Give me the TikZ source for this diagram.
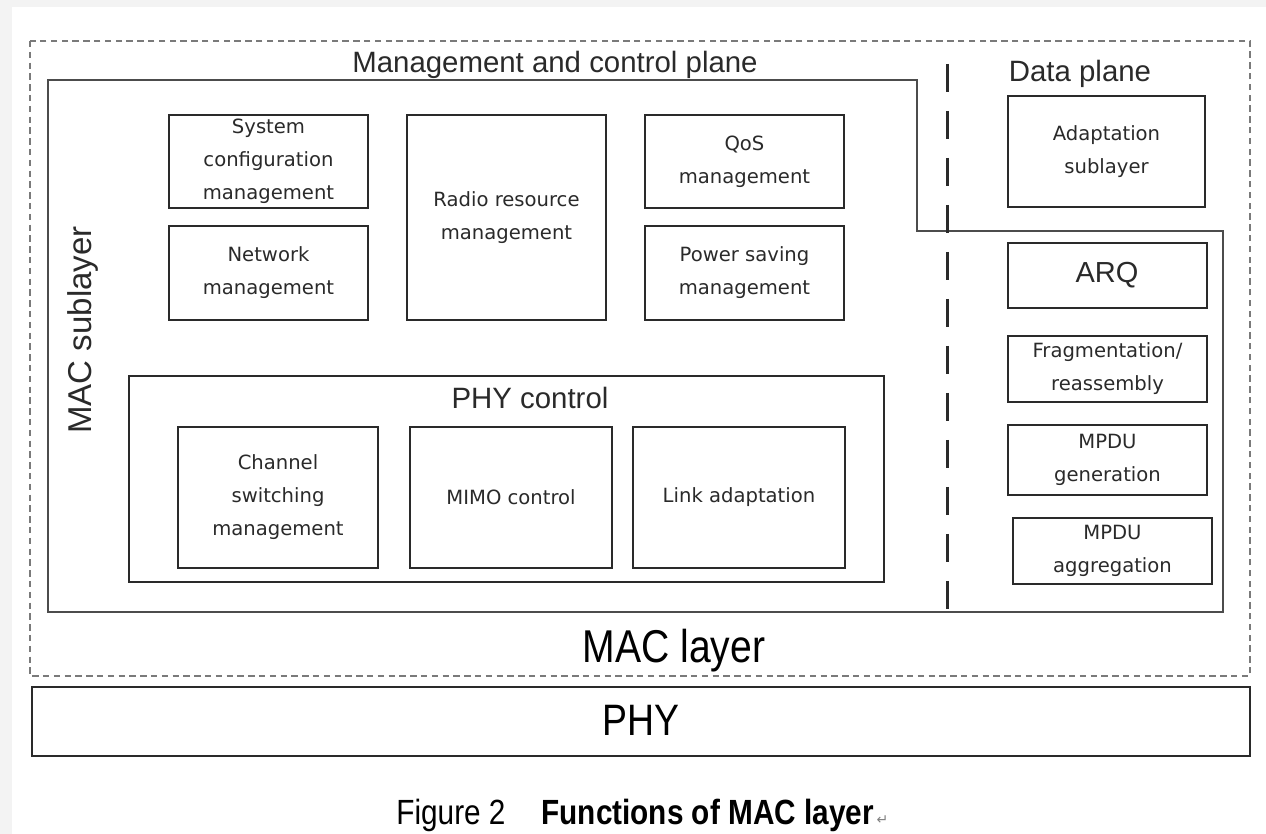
\documentclass[tikz,border=0pt]{standalone}
\usepackage{fontspec}
\setmainfont{Liberation Sans}
\newfontfamily\boxfont{DejaVu Sans}
\newfontfamily\narrowfont[FakeStretch=0.85]{Liberation Sans}
\usetikzlibrary{fit}
\definecolor{bg}{HTML}{F3F3F3}
\definecolor{ink}{HTML}{2A2A2A}
\definecolor{dashgray}{HTML}{7A7A7A}
\tikzset{
  fbox/.style={draw=ink, line width=1pt, inner sep=0pt, rectangle},
  btxt/.style={font=\boxfont\fontsize{9.8}{16.5}\selectfont, align=center, text=ink, inner sep=0pt},
  head/.style={font=\fontsize{14.7}{17}\selectfont, text=ink, inner sep=0pt, anchor=base},
  outerdash/.style={draw=dashgray, line width=1.3pt, dash pattern=on 3.2pt off 2.2pt},
  planedash/.style={draw=ink, line width=1.5pt, dash pattern=on 14pt off 9.5pt},
  sublayer/.style={draw=black!70, line width=1.2pt},
}
\begin{document}
\begin{tikzpicture}[x=0.5pt,y=-0.5pt]
\useasboundingbox (0,0) rectangle (1266,834);
\fill[bg] (0,0) rectangle (1266,834);
\fill[white] (12,7) rectangle (1266,834);

% MAC layer (dashed outer)
\draw[outerdash] (30,41) rectangle (1250,676);

% MAC sublayer outline
\draw[sublayer] (48,80) -- (917,80) -- (917,231) -- (1223,231) -- (1223,612) -- (48,612) -- cycle;

% plane separator
\coordinate (dtop) at (947,64);
\coordinate (dbot) at (947,612);
\draw[planedash] (dtop) -- (dbot);

% headings
\node[head] (mcp) at (555,73) {Management and control plane};
\node[head] (dp) at (1080,82) {Data plane};
\node[font=\fontsize{16.5}{19}\selectfont, text=ink, inner sep=0pt, rotate=90] (macsub) at (83,330) {MAC sublayer};

% management & control functions
\node[fbox, fit={(169,115) (368,208)}, label={[btxt]center:System\\configuration\\management}] (sys) {};
\node[fbox, fit={(169,226) (368,320)}, label={[btxt]center:Network\\management}] (net) {};
\node[fbox, fit={(407,115) (606,320)}, label={[btxt]center:Radio resource\\management}] (rrm) {};
\node[fbox, fit={(645,115) (844,208)}, label={[btxt]center:QoS\\management}] (qos) {};
\node[fbox, fit={(645,226) (844,320)}, label={[btxt]center:Power saving\\management}] (psm) {};

% PHY control
\node[fbox, fit={(129,376) (884,582)}] (phyc) {};
\node[head] (phyct) at (530,409) {PHY control};
\node[fbox, fit={(178,427) (378,568)}, label={[btxt]center:Channel\\switching\\management}] (chs) {};
\node[fbox, fit={(410,427) (612,568)}, label={[btxt]center:MIMO control}] (mimo) {};
\node[fbox, fit={(633,427) (845,568)}, label={[btxt]center:Link adaptation}] (link) {};

% data plane
\node[fbox, fit={(1008,96) (1205,207)}, label={[btxt]center:Adaptation\\sublayer}] (adapt) {};
\node[fbox, fit={(1008,243) (1207,308)}] (arq) {};
\node[head, font=\fontsize{14.5}{17}\selectfont] (arqt) at (1107,283) {ARQ};
\node[fbox, fit={(1008,336) (1207,402)}, label={[btxt]center:Fragmentation/\\reassembly}] (frag) {};
\node[fbox, fit={(1008,425) (1207,495)}, label={[btxt]center:MPDU\\generation}] (gen) {};
\node[fbox, fit={(1013,518) (1212,584)}, label={[btxt]center:MPDU\\aggregation}] (agg) {};

% MAC layer label
\node[anchor=base, inner sep=0pt, text=black, font=\narrowfont\fontsize{23}{26}\selectfont] (macl) at (674,663) {MAC layer};

% PHY
\node[fbox, line width=1.2pt, fit={(32,687) (1250,756)}] (phy) {};
\node[anchor=base, inner sep=0pt, text=black, font=\narrowfont\fontsize{22}{25}\selectfont] (phyt) at (641,735) {PHY};

% caption
\node[anchor=base west, inner sep=0pt, text=black, font=\narrowfont\fontsize{17.5}{20}\selectfont] (cap) at (396,825) {Figure 2\hspace{18pt}\textbf{Functions of MAC layer}};
\node[anchor=base west, inner sep=0pt, text=gray, font=\boxfont\fontsize{7}{8}\selectfont] (pm) at ([xshift=1pt]cap.base east) {↵};
\end{tikzpicture}
\end{document}
